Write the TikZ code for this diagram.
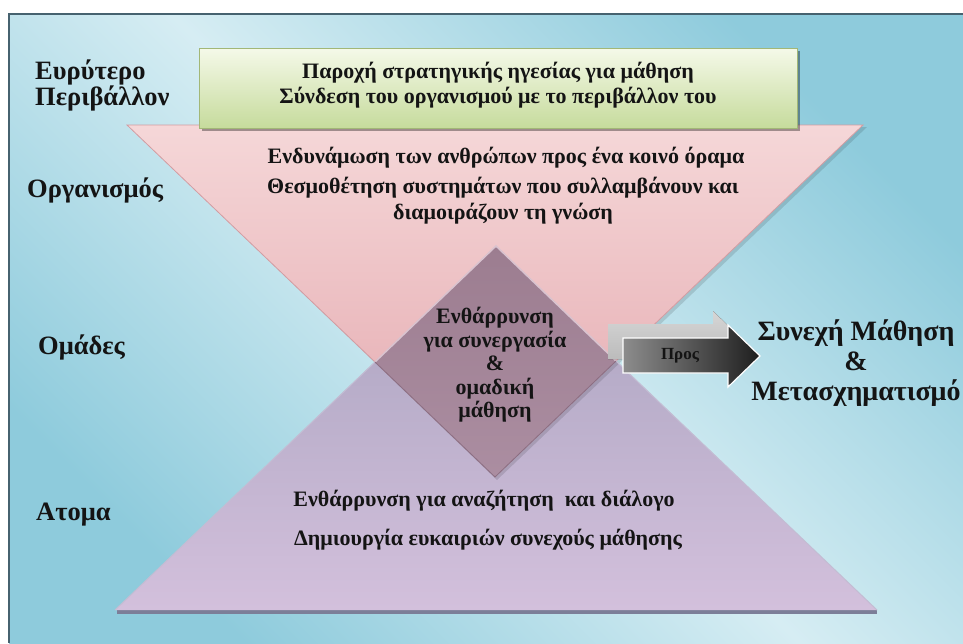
\documentclass[tikz,border=0pt]{standalone}
\usepackage{fontspec}
\setmainfont{Liberation Serif}
\usetikzlibrary{shadows}
\definecolor{bgDark}{HTML}{8ECBDC}
\definecolor{bgLight}{HTML}{D6EDF3}
\definecolor{frameC}{HTML}{46626F}
\definecolor{grnTop}{HTML}{F5F9E9}
\definecolor{grnBot}{HTML}{C6DB9C}
\definecolor{grnEdge}{HTML}{A2B777}
\definecolor{pinkTop}{HTML}{F5D7D8}
\definecolor{pinkBot}{HTML}{E4A8AE}
\definecolor{pinkEdge}{HTML}{D29CA2}
\definecolor{purTop}{HTML}{A8A2BE}
\definecolor{purBot}{HTML}{D3C0DC}
\definecolor{purEdge}{HTML}{C3BDD3}
\definecolor{purShadow}{HTML}{7C7E98}
\definecolor{mauTop}{HTML}{9C7D90}
\definecolor{mauBot}{HTML}{B497AB}
\definecolor{mauHi}{HTML}{D9C3CF}
\definecolor{mauLo}{HTML}{8B6D81}
\definecolor{txtC}{HTML}{141414}
\definecolor{arrLight}{HTML}{D6D6D6}
\definecolor{arrLight2}{HTML}{B4B4B4}
\begin{document}
\begin{tikzpicture}[x=1pt,y=-1pt,
  every node/.style={text=txtC, inner sep=0pt},
  lvl/.style={font=\fontsize{26.5}{26}\selectfont\bfseries, anchor=west, align=left},
  boxtxt/.style={font=\fontsize{22}{25}\selectfont\bfseries, align=center},
  orgtxt/.style={font=\fontsize{22}{26}\selectfont\bfseries, align=center},
  diatxt/.style={font=\fontsize{22}{23.5}\selectfont\bfseries, align=center},
  purtxt/.style={font=\fontsize{22}{25}\selectfont\bfseries},
  goaltxt/.style={font=\fontsize{28}{30}\selectfont\bfseries, align=center},
  arrtxt/.style={font=\fontsize{17}{20}\selectfont\bfseries},
]
\useasboundingbox (0,0) rectangle (963,643);
\fill[white] (0,0) rectangle (963,643);
\shade[top color=bgDark, bottom color=bgDark, middle color=bgLight, shading angle=315] (9,14) rectangle (963,643);
\draw[frameC, line width=1.3pt] (9,643) -- (9,14) -- (963,14);

% corner points
\coordinate (puL) at (115,610); \coordinate (puR) at (877,610); \coordinate (T) at (496,246);
\coordinate (pkL) at (127,125); \coordinate (pkR) at (863,125); \coordinate (B) at (495,477);
\coordinate (L) at (375,362); \coordinate (R) at (616,361);

% purple (individuals) triangle
\fill[purShadow] (117,609) rectangle (877,614);
\shade[top color=purTop, bottom color=purBot] (puL) -- (puR) -- (T) -- cycle;
% pink (organisation) triangle, with a soft shadow on its right side
\fill[black, opacity=0.12] (130,127) -- (867,127) -- (497,480) -- cycle;
\shade[top color=pinkTop, bottom color=pinkBot] (pkL) -- (pkR) -- (B) -- cycle;
% overlap diamond (teams)
\begin{scope}
  \clip (pkL) -- (pkR) -- (B) -- cycle;
  \shade[top color=mauTop, bottom color=mauBot] (puL) -- (puR) -- (T) -- cycle;
\end{scope}
\draw[pinkEdge, line width=0.8pt] (L) -- (pkL) -- (pkR) -- (R);
\draw[purEdge, line width=1pt] (L) -- (puL);
\draw[purEdge, line width=1pt] (R) -- (puR);
\draw[mauHi, line width=1.5pt] (L) -- (T) -- (R);
\draw[mauLo, line width=0.8pt] (L) -- (B) -- (R);

% environment box
\node[draw=grnEdge, line width=0.8pt, top color=grnTop, bottom color=grnBot,
      minimum width=598pt, minimum height=80pt,
      drop shadow={shadow xshift=3pt, shadow yshift=-3pt, fill=black, opacity=0.35}] (envbox) at (498,88) {};
\node[boxtxt] (envtxt) at (498,85) {Παροχή στρατηγικής ηγεσίας για μάθηση\\Σύνδεση του οργανισμού με το περιβάλλον του};

% organisation texts
\node[boxtxt] (orgA) at (506,158) {Ενδυνάμωση των ανθρώπων προς ένα κοινό όραμα};
\node[orgtxt] (orgB) at (503,201) {Θεσμοθέτηση συστημάτων που συλλαμβάνουν και\\διαμοιράζουν τη γνώση};

% teams text
\node[diatxt] (teamtxt) at (495,365) {Ενθάρρυνση\\για συνεργασία\\\&\\ομαδική\\μάθηση};

% individuals text
\node[purtxt] (indA) at (484,501) {Ενθάρρυνση για αναζήτηση\ \ και διάλογο};
\node[purtxt] (indB) at (488,540) {Δημιουργία ευκαιριών συνεχούς μάθησης};

% arrow
\fill[top color=arrLight, bottom color=arrLight2] (608,324) -- (713,324) -- (713,311) -- (745,342) -- (713,373) -- (713,359) -- (608,359) -- cycle;
\shadedraw[draw=white, line width=1.2pt, left color=black!45, right color=black!88]
  (623,338) -- (728,338) -- (728,325) -- (760,356) -- (728,387) -- (728,373) -- (623,373) -- cycle;
\node[arrtxt] (towards) at (680,356) {Προς};

% goal
\node[goaltxt] (goal) at (856,363) {Συνεχή Μάθηση\\\&\\Μετασχηματισμό};

% level labels
\node[lvl] (lenv) at (35,85) {Ευρύτερο\\Περιβάλλον};
\node[lvl] (lorg) at (27,190) {Οργανισμός};
\node[lvl] (lteam) at (38,347) {Ομάδες};
\node[lvl] (lind) at (36,515) {Ατομα};
\end{tikzpicture}
\end{document}
